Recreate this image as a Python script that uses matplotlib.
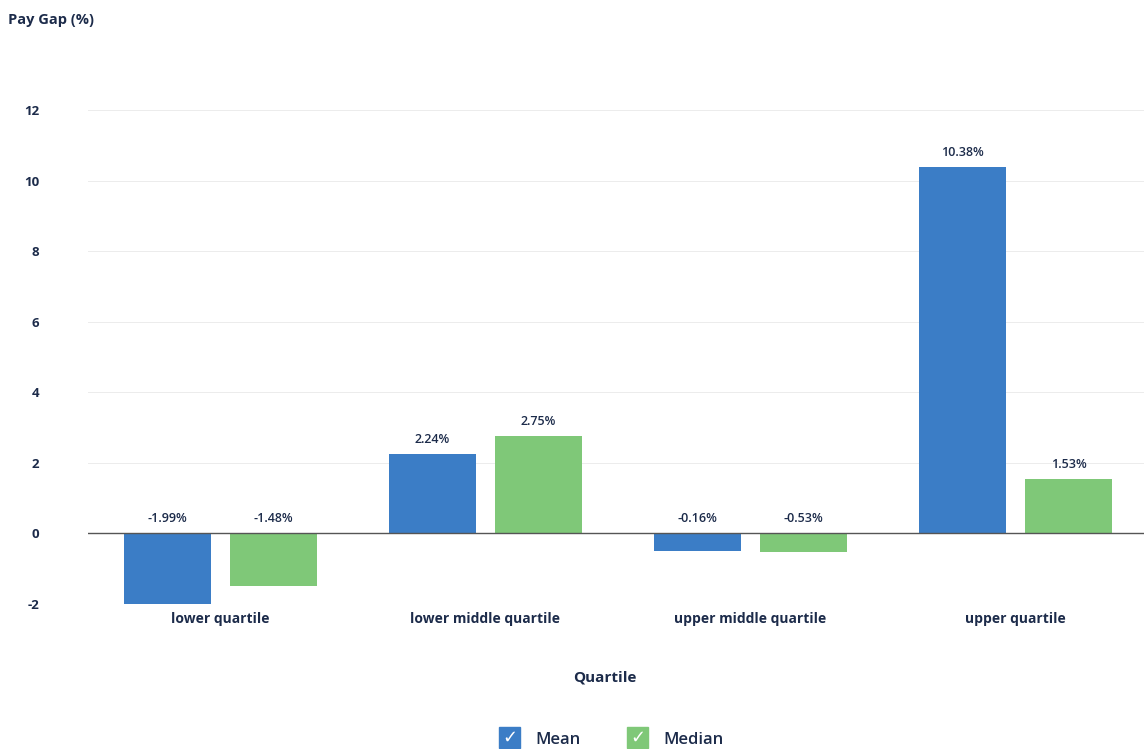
import matplotlib
matplotlib.use("Agg")
import matplotlib.pyplot as plt
from matplotlib.patches import Rectangle
import numpy as np

# data
quartiles = ["lower quartile", "lower middle quartile", "upper middle quartile", "upper quartile"]
mean_gap = [-1.99, 2.24, -0.16, 10.38]
median_gap = [-1.48, 2.75, -0.53, 1.53]
series_names = ["Mean", "Median"]

navy = "#1c2b4a"
blue = "#3b7dc6"
green = "#7fc878"

plt.rcParams['font.family'] = ['Open Sans', 'DejaVu Sans']
plt.rcParams['axes.unicode_minus'] = False

fig = plt.figure(figsize=(11.44, 7.49), dpi=100)
ax = fig.add_axes([0.0769, 0.1936, 0.9266, 0.6595])

x = np.arange(len(quartiles))
w = 0.33
off = 0.2
min_h = 0.5  # the original chart keeps tiny bars visible


def shown(vals):
    v = np.array(vals)
    return np.where(np.abs(v) < min_h, np.sign(v) * min_h, v)


for vals, dx, col in [(mean_gap, -off, blue), (median_gap, off, green)]:
    ax.bar(x + dx, shown(vals), width=w, color=col, zorder=3)
    for xi, v in zip(x + dx, vals):
        base = max(v, 0)
        ax.annotate(f"{v:.2f}%", xy=(xi, base), xytext=(0, 6), textcoords="offset points",
                    ha="center", va="bottom", fontsize=9, color=navy, fontweight="semibold")

ax.set_xlim(-0.5, 3.5)
ax.set_ylim(-2, 12)
ax.set_yticks(range(-2, 13, 2))
ax.yaxis.grid(True, color="#ececec", linewidth=0.7, zorder=0)
ax.axhline(0, color="#555555", linewidth=1.0, zorder=4)
for s in ax.spines.values():
    s.set_visible(False)
ax.tick_params(axis="both", length=0)
ax.tick_params(axis="y", pad=35)
ax.tick_params(axis="x", pad=6)
ax.set_xticks(x)
ax.set_xticklabels(quartiles, fontsize=10, fontweight="bold", color=navy)
for lbl in ax.get_yticklabels():
    lbl.set_fontsize(9.5)
    lbl.set_fontweight("bold")
    lbl.set_color(navy)

fig.text(8 / 1144, 1 - 20 / 749, "Pay Gap (%)", fontsize=10.5, fontweight="bold",
         color=navy, va="center", ha="left")
fig.text(605 / 1144, 1 - 678 / 749, "Quartile", fontsize=11, fontweight="bold",
         color=navy, va="center", ha="center")

# legend with checked boxes
for (px, col, name) in [(499, blue, series_names[0]), (627, green, series_names[1])]:
    box = Rectangle((px / 1144, 1 / 749), 21 / 1144, 21 / 749,
                    transform=fig.transFigure, color=col)
    fig.add_artist(box)
    fig.text((px + 10.5) / 1144, 1 - 738 / 749, "\u2713", color="white", fontsize=13,
             ha="center", va="center", family="DejaVu Sans")
    fig.text((px + 36) / 1144, 1 - 740 / 749, name, fontsize=12, color=navy,
             fontweight="semibold", ha="left", va="center")

fig.savefig("out.png", dpi=100)
